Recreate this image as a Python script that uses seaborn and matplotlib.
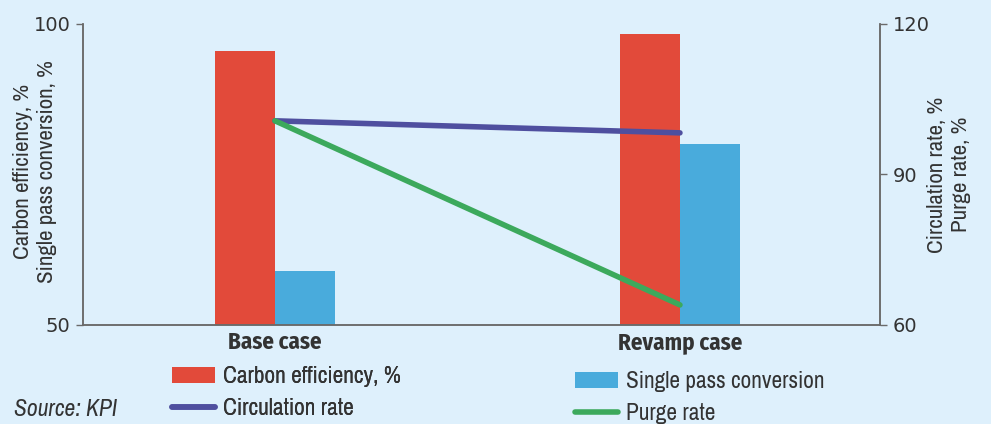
import matplotlib
matplotlib.use("Agg")
import matplotlib.pyplot as plt
from matplotlib.lines import Line2D
from matplotlib.patches import Patch
import pandas as pd
import seaborn as sns

# Data
cases = ["Base case", "Revamp case"]
carbon_efficiency = [95.5, 98.3]
single_pass_conversion = [59.0, 80.0]
circulation_rate = [100.7, 98.3]
purge_rate = [100.7, 64.0]

BG = "#def0fc"
RED = "#e24a3a"
BLUE = "#49abdc"
PURPLE = "#4f4f9f"
GREEN = "#3ca95c"
TXT = "#333333"
SPINE = "#6a6a6a"
FONT = ["Archivo Narrow", "DejaVu Sans"]
BOLD_FONT = ["Fira Sans Condensed", "DejaVu Sans"]
NUM_FONT = ["DejaVu Sans"]

sns.set_theme(style="white")
plt.rcParams["font.family"] = FONT
plt.rcParams["text.color"] = TXT
plt.rcParams["axes.labelcolor"] = TXT
plt.rcParams["xtick.color"] = TXT
plt.rcParams["ytick.color"] = TXT

fig = plt.figure(figsize=(9.91, 4.24), dpi=100, facecolor=BG)
ax = fig.add_axes([0.0838, 0.2335, 0.8042, 0.7099])
ax.set_facecolor(BG)

bars = pd.DataFrame({
    "case": list(range(len(cases))) * 2,
    "metric": ["Carbon efficiency, %"] * len(cases) + ["Single pass conversion"] * len(cases),
    "value": carbon_efficiency + single_pass_conversion,
})
sns.barplot(data=bars, x="case", y="value", hue="metric",
            palette=[RED, BLUE], width=0.296, gap=0, dodge=True,
            saturation=1, legend=False, ax=ax, native_scale=True)
for p in ax.patches:
    p.set_edgecolor("none")

ax.set_ylim(50, 100)
ax.set_yticks([50, 100])
ax.set_xlim(-0.474, 1.494)
ax.set_xticks(range(len(cases)))
ax.set_xticklabels(cases)
for t in ax.get_xticklabels():
    t.set_fontfamily(BOLD_FONT)
    t.set_fontweight("bold")
    t.set_fontsize(16.5)
ax.set_xlabel("")
ax.set_ylabel("Carbon efficiency, %\nSingle pass conversion, %", fontsize=16.5,
              linespacing=1.25)
# anchor of the left label is its right-hand edge
ax.yaxis.set_label_coords(-0.0326, 0.51)
ax.tick_params(axis="y", length=5, width=1, color=SPINE, pad=4, left=True)
ax.tick_params(axis="x", length=0, pad=4)

ax2 = ax.twinx()
lines = pd.DataFrame({
    "case": list(range(len(cases))) * 2,
    "series": ["Circulation rate"] * len(cases) + ["Purge rate"] * len(cases),
    "value": circulation_rate + purge_rate,
})
sns.lineplot(data=lines, x="case", y="value", hue="series",
             palette=[PURPLE, GREEN], linewidth=4, legend=False, ax=ax2,
             solid_capstyle="round")
ax2.lines[1].set_zorder(3)
ax2.set_ylim(60, 120)
ax2.set_yticks([60, 90, 120])
ax2.set_xlim(-0.474, 1.494)
ax2.set_ylabel("Circulation rate, %\nPurge rate, %", fontsize=16.5, linespacing=1.25)
# anchor of the right label is its left-hand edge
ax2.yaxis.set_label_coords(1.059, 0.5)
ax2.tick_params(axis="y", length=5, width=1, color=SPINE, pad=4, right=True)

for a in (ax, ax2):
    a.grid(False)
    a.spines["top"].set_visible(False)
    for s in ("left", "right", "bottom"):
        a.spines[s].set_color(SPINE)
        a.spines[s].set_linewidth(1.1)
    for t in a.get_yticklabels():
        t.set_fontfamily(NUM_FONT)
        t.set_fontsize(14)

leg_kw = dict(frameon=False, fontsize=16.8, handlelength=1.86, handleheight=0.72,
              handletextpad=0.34, labelspacing=0.47, borderpad=0, borderaxespad=0,
              loc="upper left")
h_left = [Patch(facecolor=RED, edgecolor="none", label="Carbon efficiency, %"),
          Line2D([], [], color=PURPLE, lw=4, solid_capstyle="round", label="Circulation rate")]
h_right = [Patch(facecolor=BLUE, edgecolor="none", label="Single pass conversion"),
           Line2D([], [], color=GREEN, lw=4, solid_capstyle="round", label="Purge rate")]
l1 = fig.legend(handles=h_left, bbox_to_anchor=(172 / 991, 1 - 366 / 424), **leg_kw)
fig.add_artist(l1)
fig.legend(handles=h_right, bbox_to_anchor=(575 / 991, 1 - 371 / 424), **leg_kw)

fig.text(14 / 991, 1 - 409 / 424, "Source: KPI", fontsize=17, style="italic",
         color=TXT, va="center", ha="left")

fig.savefig("out.png", dpi=100, facecolor=BG)
